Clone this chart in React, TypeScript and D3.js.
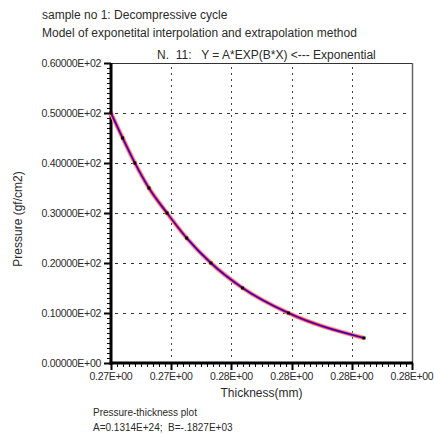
import React from "react";
import * as d3 from "d3";

// measured points (thickness mm, pressure gf/cm2)
const thickness = [0.27, 0.27058, 0.27119, 0.27189, 0.27279, 0.27377, 0.27498, 0.27656, 0.27884, 0.28261];
const pressure = [50, 45, 40, 35, 30, 25, 20, 15, 10, 5];

const xTicks = [0.27, 0.273, 0.276, 0.279, 0.282, 0.285];
const xTickLabels = ["0.27E+00", "0.27E+00", "0.28E+00", "0.28E+00", "0.28E+00", "0.28E+00"];
const yTicks = [0, 10, 20, 30, 40, 50, 60];
const yTickLabels = [
  "0.00000E+00",
  "0.10000E+02",
  "0.20000E+02",
  "0.30000E+02",
  "0.40000E+02",
  "0.50000E+02",
  "0.60000E+02",
];

const App = () => {
  const left = 111,
    right = 412,
    top = 63,
    bottom = 363;
  const font = "Liberation Sans, Arial, sans-serif";
  const ink = "#2a2a2a";
  const x = d3.scaleLinear().domain([0.27, 0.285]).range([left, right]);
  const y = d3.scaleLinear().domain([0, 60]).range([bottom, top]);

  const pts = thickness.map((t, i) => [t, pressure[i]] as [number, number]);
  const line = d3
    .line<[number, number]>()
    .x((d) => x(d[0]))
    .y((d) => y(d[1]))
    .curve(d3.curveMonotoneX);
  const curve = line(pts) || "";

  const yMinor = d3.range(0, 61, 1);
  const xMinor = d3.range(0, 51, 1);

  // dotted grid as small dashes
  const hDash: [number, number][] = [];
  yTicks
    .filter((d) => d > 0 && d < 60)
    .forEach((d) => {
      for (let px = left + 4; px < right - 2; px += 8) hDash.push([px, Math.round(y(d))]);
    });
  const vDash: [number, number][] = [];
  xTicks.slice(1, -1).forEach((d) => {
    for (let py = top + 4; py < bottom - 2; py += 6) vDash.push([Math.round(x(d)), py]);
  });

  return (
    <div style={{ position: "absolute", left: 0, top: 0 }}>
      <svg width={434} height={435} style={{ display: "block", background: "#fff" }} fontFamily={font}>
        <g fill={ink}>
          <text x={42} y={19} fontSize={12}>sample no 1: Decompressive cycle</text>
          <text x={42} y={37} fontSize={12}>Model of exponetital interpolation and extrapolation method</text>
          <text x={157} y={59} fontSize={12} style={{ whiteSpace: "pre" }}>
            {"N.  11:   Y = A*EXP(B*X) <--- Exponential"}
          </text>
        </g>

        {/* grid */}
        <g shapeRendering="crispEdges">
          {hDash.map((d, i) => (
            <rect key={"h" + i} x={d[0]} y={d[1]} width={3} height={1} fill="#333" />
          ))}
          {vDash.map((d, i) => (
            <rect key={"v" + i} x={d[0]} y={d[1]} width={1} height={2} fill="#444" />
          ))}
        </g>

        {/* frame */}
        <line x1={left} x2={right} y1={top + 0.5} y2={top + 0.5} stroke="#333" />
        <line x1={right + 0.5} x2={right + 0.5} y1={top} y2={bottom} stroke="#666" strokeWidth={1.5} />

        {/* minor / major ticks */}
        {yMinor.map((d) => (
          <line
            key={"ym" + d}
            x1={d % 10 === 0 ? left - 7 : left - 4}
            x2={left}
            y1={Math.round(y(d)) + 0.5}
            y2={Math.round(y(d)) + 0.5}
            stroke="#000"
            strokeWidth={d % 10 === 0 ? 2 : 1}
          />
        ))}
        {xMinor.map((i) => {
          const px = Math.round(x(0.27 + i * 0.0003)) + 0.5;
          return (
            <line
              key={"xm" + i}
              x1={px}
              x2={px}
              y1={bottom}
              y2={i % 10 === 0 ? bottom + 7 : bottom + 4}
              stroke="#000"
              strokeWidth={i % 10 === 0 ? 2 : 1}
            />
          );
        })}

        {/* axes */}
        <line x1={left} x2={left} y1={top} y2={bottom + 1.5} stroke="#000" strokeWidth={3} />
        <line x1={left - 1.5} x2={right + 1} y1={bottom} y2={bottom} stroke="#000" strokeWidth={3} />

        {/* tick labels */}
        <g fill={ink} fontSize={10.5} letterSpacing={-0.3}>
          {yTicks.map((d, i) => (
            <text key={"yl" + d} x={left - 10} y={y(d) + 4} textAnchor="end">
              {yTickLabels[i]}
            </text>
          ))}
          {xTicks.map((d, i) => (
            <text key={"xl" + i} x={x(d)} y={bottom + 17} textAnchor="middle">
              {xTickLabels[i]}
            </text>
          ))}
        </g>

        {/* axis titles */}
        <g fill={ink} fontSize={12}>
          <text x={(left + right) / 2} y={397} textAnchor="middle">Thickness(mm)</text>
          <text transform={`translate(22,${(top + bottom) / 2 + 6}) rotate(-90)`} textAnchor="middle">
            Pressure (gf/cm2)
          </text>
        </g>

        {/* footer */}
        <g fill={ink} fontSize={10}>
          <text x={93} y={416}>Pressure-thickness plot</text>
          <text x={93} y={431} style={{ whiteSpace: "pre" }}>
            {"A=0.1314E+24;  B=-.1827E+03"}
          </text>
        </g>

        {/* fitted curve */}
        <path d={curve} fill="none" stroke="#ffa0a0" strokeWidth={4.5} />
        <path d={curve} fill="none" stroke="#ff2020" strokeWidth={2.6} />
        <path d={curve} fill="none" stroke="#0000ff" strokeWidth={1.2} />

        {/* data points */}
        {pts.map((d, i) => (
          <rect key={"p" + i} x={x(d[0]) - 1.5} y={y(d[1]) - 1.5} width={3} height={3} fill="#000" />
        ))}
      </svg>
    </div>
  );
};

export default App;
